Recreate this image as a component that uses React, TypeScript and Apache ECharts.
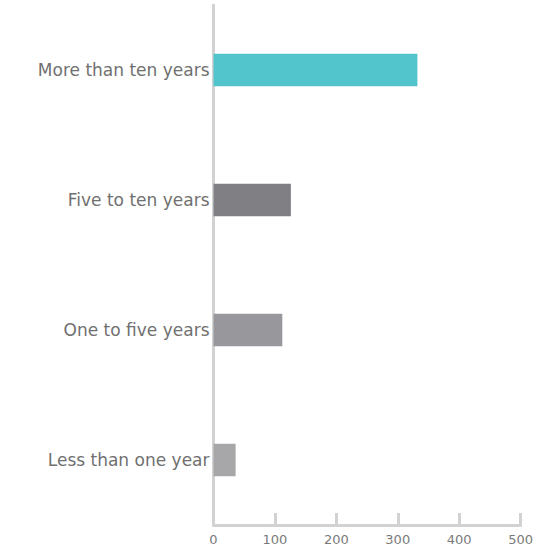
import React, { useEffect, useRef } from "react";
import * as echarts from "echarts";

const categories = ["Less than one year", "One to five years", "Five to ten years", "More than ten years"];
const values = [36, 112, 126, 332];
const barColors = ["#a7a7a9", "#98989c", "#808084", "#52c4cb"];
const xTicks = [0, 100, 200, 300, 400, 500];

export default function App() {
  const ref = useRef<HTMLDivElement>(null);
  useEffect(() => {
    const chart = echarts.init(ref.current!, null, { renderer: "svg" });
    chart.setOption({
      animation: false,
      grid: { left: 213.5, right: 15, top: 5, bottom: 25, containLabel: false },
      xAxis: {
        type: "value",
        min: xTicks[0],
        max: xTicks[xTicks.length - 1],
        interval: 100,
        splitLine: { show: false },
        axisLine: { show: true, lineStyle: { color: "#d2d2d2", width: 3 } },
        axisTick: { show: true, inside: true, length: 12, lineStyle: { color: "#d2d2d2", width: 3 } },
        axisLabel: { color: "#7a7a7a", fontSize: 13, fontFamily: "DejaVu Sans", margin: 8 },
      },
      yAxis: {
        type: "category",
        data: categories,
        axisLine: { show: true, lineStyle: { color: "#d2d2d2", width: 3 } },
        axisTick: { show: false },
        axisLabel: { color: "#707070", fontSize: 17, fontFamily: "DejaVu Sans", margin: 4 },
      },
      series: [
        {
          type: "bar",
          data: values.map((v, i) => ({ value: v, itemStyle: { color: barColors[i] } })),
          barWidth: "25%",
        },
      ],
    });
    return () => chart.dispose();
  }, []);
  return <div ref={ref} style={{ position: "absolute", left: 0, top: 0, width: 536, height: 550 }} />;
}
